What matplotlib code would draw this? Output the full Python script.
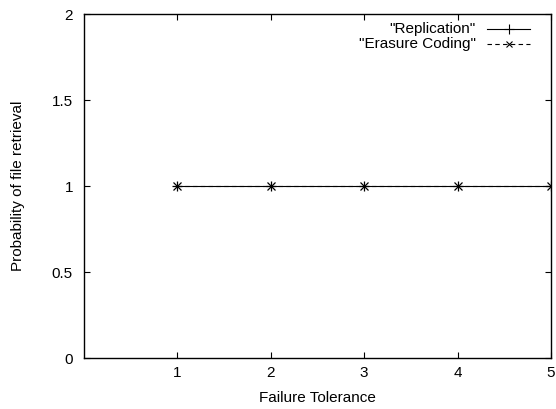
import matplotlib
matplotlib.use("Agg")
import matplotlib.pyplot as plt

plt.rcParams['font.family'] = ['Liberation Sans', 'DejaVu Sans']
plt.rcParams['font.size'] = 11

failure_tolerance = [1, 2, 3, 4, 5]
replication = [1, 1, 1, 1, 1]
erasure_coding = [1, 1, 1, 1, 1]
series_labels = ['"Replication"', '"Erasure Coding"']
x_ticks = [1, 2, 3, 4, 5]
y_ticks = [0, 0.5, 1, 1.5, 2]
y_tick_labels = ['0', '0.5', '1', '1.5', '2']

fig = plt.figure(figsize=(5.56, 4.09), dpi=100)
ax = fig.add_axes([84/556, 51/409, 467/556, 344/409])

ax.plot(failure_tolerance, replication, color='black', lw=0.8, marker='+', ms=7, mew=0.9)
ax.plot(failure_tolerance, erasure_coding, color='black', lw=0.8, ls=(0, (4, 3)), marker='x', ms=5.5, mew=0.9)

ax.set_xlim(0, 5)
ax.set_ylim(0, 2)
ax.set_xticks(x_ticks)
ax.set_yticks(y_ticks)
ax.set_yticklabels(y_tick_labels)
ax.tick_params(direction='in', length=4.5, width=0.8, top=True, right=True, colors='black')
ax.tick_params(axis='x', pad=6)
ax.tick_params(axis='y', pad=8)
for s in ax.spines.values():
    s.set_linewidth(1.0)

ax.set_xlabel('Failure Tolerance')
ax.set_ylabel('Probability of file retrieval')
ax.xaxis.set_label_coords(0.5, -0.096)
ax.yaxis.set_label_coords(-0.126, 0.5)

# key, gnuplot style: text right-aligned, sample to the right
styles = [dict(ls='-', marker='+', ms=7), dict(ls=(0, (4, 3)), marker='x', ms=5)]
rows = [0.956, 0.913]
for lab, st, yy in zip(series_labels, styles, rows):
    ax.text(0.839, yy, lab, transform=ax.transAxes, ha='right', va='center')
    ax.plot([0.863, 0.955], [yy, yy], transform=ax.transAxes, color='black', lw=0.8, ls=st['ls'], clip_on=False)
    ax.plot([0.909], [yy], transform=ax.transAxes, color='black', marker=st['marker'], ms=st['ms'], mew=0.8, clip_on=False)

fig.savefig("out.png", dpi=100)
